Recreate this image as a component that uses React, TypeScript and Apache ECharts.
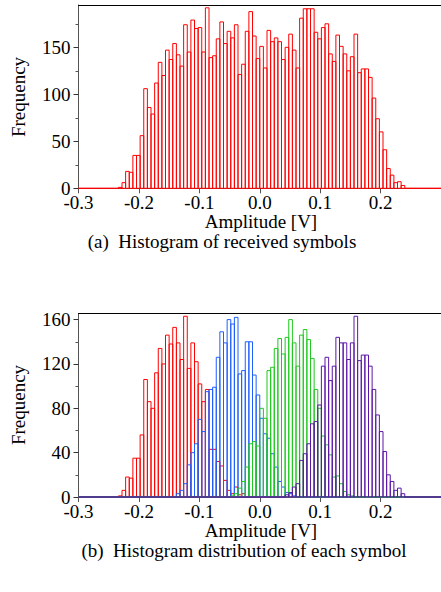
import React, { useEffect, useRef } from "react";
import * as echarts from "echarts";

// ---- histogram binning (data) ----
const BIN_MIN = -0.3;
const BIN_WIDTH = 0.006;
const BIN_COUNT = 100;

// ---- axis ticks ----
const X_TICKS = [-0.3, -0.2, -0.1, 0.0, 0.1, 0.2];
const TOP_Y_TICKS = [0, 50, 100, 150];
const TOP_Y_MINOR = [25, 75, 125, 175];
const BOT_Y_TICKS = [0, 40, 80, 120, 160];
const BOT_Y_MINOR = [20, 60, 100, 140];

// ---- (a) histogram of received symbols ----
const RECEIVED_START_BIN = 11;
const RECEIVED = [
  1, 6, 18, 17, 35, 35, 56, 106, 86, 79,
  112, 134, 120, 147, 137, 154, 142, 130, 174, 145,
  179, 170, 171, 145, 192, 139, 141, 159, 177, 154,
  167, 160, 174, 121, 132, 167, 188, 162, 138, 151,
  128, 168, 156, 160, 156, 137, 150, 164, 147, 128,
  181, 191, 191, 191, 166, 159, 171, 175, 143, 135,
  163, 151, 143, 125, 140, 164, 123, 127, 127, 118,
  96, 74, 60, 41, 21, 14, 6, 7, 3,
];

// ---- (b) histogram of each symbol ----
const SYM1_START_BIN = 11; // red
const SYM1 = [
  1, 6, 18, 17, 35, 35, 56, 106, 86, 80,
  112, 134, 120, 146, 138, 153, 139, 124, 163, 116,
  139, 122, 102, 86, 97, 43, 43, 32, 28, 15,
  6, 3, 9, 2, 3,
];
const SYM2_START_BIN = 27; // blue
const SYM2 = [
  3, 6, 12, 29, 40, 48, 70, 59, 95, 97,
  99, 126, 149, 139, 160, 156, 162, 111, 114, 140,
  140, 110, 92, 71, 57, 53, 39, 27, 14, 9,
  4, 3, 1,
];
const SYM3_START_BIN = 42; // green
const SYM3 = [
  1, 3, 8, 14, 27, 48, 50, 46, 80, 71,
  114, 117, 134, 143, 129, 144, 160, 139, 118, 146,
  151, 142, 125, 97, 80, 55, 47, 38, 18, 19,
  12, 5, 2, 1,
];
const SYM4_START_BIN = 57; // purple
const SYM4 = [
  2, 4, 9, 12, 33, 39, 48, 66, 68, 83,
  118, 126, 105, 118, 144, 139, 139, 124, 139, 163,
  123, 128, 128, 118, 97, 74, 59, 41, 20, 14,
  6, 8, 3,
];

const COLORS = {
  received: "#ff0000",
  sym1: "#ff0000",
  sym2: "#1e5eff",
  sym3: "#1ec81e",
  sym4: "#5c16a6",
};

const FONT = "Liberation Serif";
const FS = 19;

function toBins(startBin: number, counts: number[]) {
  const out: number[][] = [];
  for (let i = 0; i < BIN_COUNT; i++) {
    const k = i - startBin;
    const c = k >= 0 && k < counts.length ? counts[k] : 0;
    const l = BIN_MIN + i * BIN_WIDTH;
    out.push([l, l + BIN_WIDTH, c]);
  }
  return out;
}

const fmtX = (v: number) => (Math.abs(v) < 1e-9 ? 0 : v).toFixed(1);

function histSeries(name: string, data: number[][], color: string, xi: number, yi: number) {
  return {
    type: "custom",
    name,
    xAxisIndex: xi,
    yAxisIndex: yi,
    silent: true,
    clip: false,
    encode: { x: [0, 1], y: 2 },
    data,
    renderItem: (_params: any, api: any) => {
      const l = api.value(0);
      const r = api.value(1);
      const c = api.value(2);
      const a = api.coord([l, 0]);
      const b = api.coord([r, c]);
      return {
        type: "polygon",
        shape: {
          points: [
            [a[0], a[1]],
            [a[0], b[1]],
            [b[0], b[1]],
            [b[0], a[1]],
          ],
        },
        style: { fill: "none", stroke: color, lineWidth: 1 },
      };
    },
  };
}

function xAxes(gridIndex: number) {
  return [
    {
      type: "value",
      gridIndex,
      position: "bottom",
      min: -0.3,
      max: 0.3,
      axisLine: { show: true, onZero: false, lineStyle: { color: "#555", width: 1 } },
      axisTick: { show: true, length: 5, customValues: X_TICKS, lineStyle: { color: "#555" } },
      axisLabel: {
        show: true,
        customValues: X_TICKS,
        margin: 5,
        formatter: (v: number) => fmtX(v),
        fontSize: FS,
        fontFamily: FONT,
        color: "#000",
      },
      splitLine: { show: false },
    },
    {
      type: "value",
      gridIndex,
      position: "top",
      min: -0.3,
      max: 0.3,
      axisLine: { show: true, onZero: false, lineStyle: { color: "#000", width: 1 } },
      axisTick: { show: false },
      axisLabel: { show: false },
      splitLine: { show: false },
    },
  ];
}

function yAxes(gridIndex: number, max: number, ticks: number[], minor: number[]) {
  return [
    {
      type: "value",
      gridIndex,
      position: "left",
      min: 0,
      max,
      axisLine: { show: true, onZero: false, lineStyle: { color: "#555", width: 1 } },
      axisTick: { show: true, length: 5, customValues: ticks, lineStyle: { color: "#333" } },
      axisLabel: {
        show: true,
        customValues: ticks,
        margin: 8,
        fontSize: FS,
        fontFamily: FONT,
        color: "#000",
      },
      splitLine: { show: false },
    },
    {
      type: "value",
      gridIndex,
      position: "left",
      min: 0,
      max,
      axisLine: { show: false, onZero: false },
      axisTick: { show: true, length: 3, customValues: minor, lineStyle: { color: "#555" } },
      axisLabel: { show: false },
      splitLine: { show: false },
    },
  ];
}

function textEl(text: string, x: number, y: number, rotate = false) {
  return {
    type: "text",
    x,
    y,
    rotation: rotate ? Math.PI / 2 : 0,
    silent: true,
    style: {
      text,
      fill: "#000",
      fontSize: FS,
      fontFamily: FONT,
      align: "center",
      verticalAlign: "middle",
    },
  };
}

export default function App() {
  const ref = useRef<HTMLDivElement>(null);

  useEffect(() => {
    if (!ref.current) return;
    const chart = echarts.init(ref.current, null, { renderer: "svg" });
    const option: any = {
      animation: false,
      backgroundColor: "#fff",
      textStyle: { fontFamily: FONT },
      grid: [
        { left: 78.5, right: -5, top: 5, height: 183.3, containLabel: false },
        { left: 78.5, right: -5, top: 313.5, height: 183.5, containLabel: false },
      ],
      xAxis: [...xAxes(0), ...xAxes(1)],
      yAxis: [
        ...yAxes(0, 195, TOP_Y_TICKS, TOP_Y_MINOR),
        ...yAxes(1, 165.5, BOT_Y_TICKS, BOT_Y_MINOR),
      ],
      series: [
        histSeries("received", toBins(RECEIVED_START_BIN, RECEIVED), COLORS.received, 0, 0),
        histSeries("symbol 1", toBins(SYM1_START_BIN, SYM1), COLORS.sym1, 2, 2),
        histSeries("symbol 2", toBins(SYM2_START_BIN, SYM2), COLORS.sym2, 2, 2),
        histSeries("symbol 3", toBins(SYM3_START_BIN, SYM3), COLORS.sym3, 2, 2),
        histSeries("symbol 4", toBins(SYM4_START_BIN, SYM4), COLORS.sym4, 2, 2),
      ],
      graphic: [
        textEl("Frequency", 18.5, 97, true),
        textEl("Amplitude [V]", 261, 221),
        textEl("(a)\u00A0\u00A0Histogram of received symbols", 222, 241),
        textEl("Frequency", 18.5, 405, true),
        textEl("Amplitude [V]", 261, 530),
        textEl("(b)\u00A0\u00A0Histogram distribution of each symbol", 244, 550),
      ],
    };
    chart.setOption(option);
    return () => chart.dispose();
  }, []);

  return (
    <div
      style={{
        position: "fixed",
        left: 0,
        top: 0,
        width: 441,
        height: 592,
        overflow: "hidden",
        background: "#fff",
      }}
    >
      <div ref={ref} style={{ width: 441, height: 592 }} />
    </div>
  );
}
